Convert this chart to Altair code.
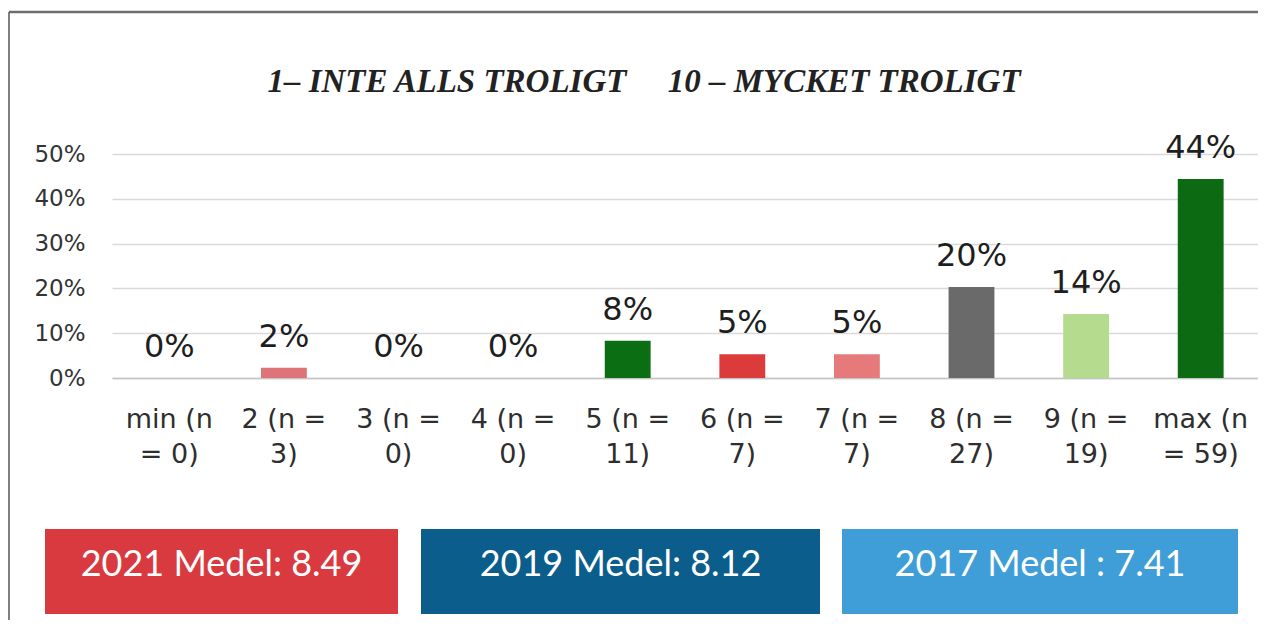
import altair as alt
import pandas as pd

# ---------------- data ----------------
categories = ["min (n\n= 0)", "2 (n =\n3)", "3 (n =\n0)", "4 (n =\n0)", "5 (n =\n11)",
              "6 (n =\n7)", "7 (n =\n7)", "8 (n =\n27)", "9 (n =\n19)", "max (n\n= 59)"]
shares = [0.0, 0.023, 0.0, 0.0, 0.083, 0.053, 0.053, 0.203, 0.143, 0.444]
y_ticks = [0, 0.1, 0.2, 0.3, 0.4, 0.5]
title_text = "1– INTE ALLS TROLIGT" + "\u00a0" * 5 + "10 – MYCKET TROLIGT"
mean_labels = ["2021 Medel: 8.49", "2019 Medel: 8.12", "2017 Medel : 7.41"]

# ---------------- styles / layout ----------------
bar_colors = ["#e07a7a", "#de7478", "#e07a7a", "#e07a7a", "#0b6e12",
              "#dc3b3b", "#e67a7a", "#6a6a6a", "#b5db8e", "#0b6a12"]
box_colors = ["#d93a40", "#0b5d8c", "#3f9ed7"]
box_left = [-67, 309, 730]
box_right = [286, 708, 1126]

W, H = 1146, 224

df = pd.DataFrame({"cat": categories, "share": shares})
boxes_df = pd.DataFrame({"label": mean_labels, "x0": box_left, "x1": box_right})

x_enc = alt.X("cat:N", sort=categories,
              scale=alt.Scale(paddingInner=0.6, paddingOuter=0.3),
              axis=alt.Axis(title=None, labelAngle=0,
                            labelExpr="split(datum.label, '\\n')",
                            labelFont="DejaVu Sans", labelFontSize=27,
                            labelColor="#2e2e2e", labelLineHeight=35,
                            labelPadding=28, ticks=False, tickSize=0,
                            domainColor="#c4c4c4", domainWidth=1.3,
                            labelLimit=300, labelOverlap=False, labelBound=False))
y_enc = alt.Y("share:Q", scale=alt.Scale(domain=[0, 0.5], nice=False),
              axis=alt.Axis(title=None, values=y_ticks, format=".0%",
                            labelFont="DejaVu Sans", labelFontSize=23,
                            labelColor="#333333", labelPadding=27,
                            ticks=False, tickSize=0, domain=False,
                            grid=True, gridColor="#d9d9d9", gridWidth=1.3))

bars = alt.Chart(df).mark_bar().encode(
    x=x_enc, y=y_enc,
    color=alt.Color("cat:N", scale=alt.Scale(domain=categories, range=bar_colors), legend=None),
)
labels = alt.Chart(df).transform_calculate(
    lab="format(datum.share, '.0%')"
).mark_text(dy=-21, baseline="alphabetic", font="DejaVu Sans", fontSize=32,
            color="#1e1e1e").encode(
    x=alt.X("cat:N", sort=categories), y=alt.Y("share:Q"), text="lab:N")

plot = alt.layer(bars, labels)

one = pd.DataFrame({"t": [title_text]})
frame_top = alt.Chart(one).mark_rule(color="#6e6e6e", strokeWidth=2.5).encode(
    x=alt.value(-103), x2=alt.value(W), y=alt.value(-142))
frame_left = alt.Chart(one).mark_rule(color="#555555", strokeWidth=1.5).encode(
    x=alt.value(-103), y=alt.value(-142), y2=alt.value(H + 242))
title = alt.Chart(one).mark_text(font="Liberation Serif", fontStyle="italic",
                                 fontWeight="bold", fontSize=33, color="#222222",
                                 baseline="alphabetic", align="center").encode(
    x=alt.value(532), y=alt.value(-62), text="t:N")

box_rects = alt.Chart(boxes_df).mark_rect().encode(
    x=alt.X("x0:Q", scale=None, axis=None), x2="x1:Q",
    y=alt.value(375), y2=alt.value(460),
    color=alt.Color("label:N", scale=alt.Scale(domain=mean_labels, range=box_colors), legend=None),
)
box_text = alt.Chart(boxes_df).transform_calculate(
    xc="(datum.x0 + datum.x1) / 2"
).mark_text(font="Lato", fontSize=36, color="#ffffff", baseline="middle", align="center").encode(
    x=alt.X("xc:Q", scale=None, axis=None), y=alt.value(411), text="label:N")

chart = alt.layer(plot, frame_top, frame_left, title, box_rects, box_text).resolve_scale(
    x="independent", color="independent"
).properties(
    width=W, height=H,
    autosize=alt.AutoSizeParams(type="none"),
    padding={"left": 104, "top": 146, "right": 0, "bottom": 242},
    background="white",
).configure_view(stroke=None)

chart.save("out.html", embed_options={"renderer": "svg", "actions": False})
